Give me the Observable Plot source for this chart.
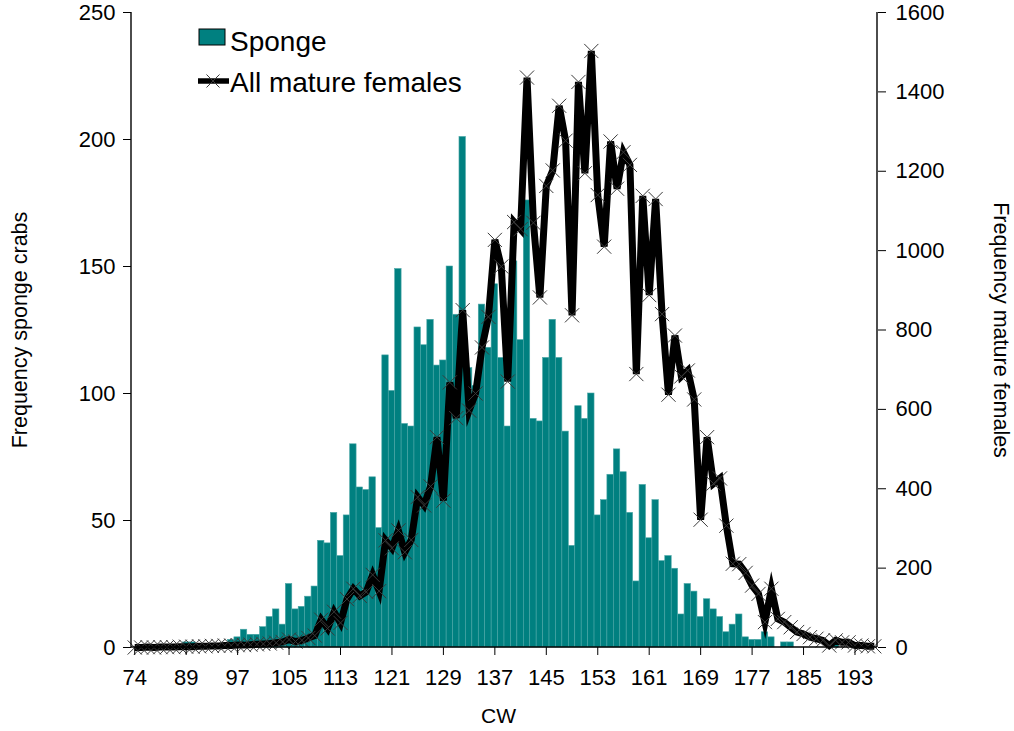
<!DOCTYPE html>
<html>
<head>
<meta charset="utf-8">
<script src="https://cdn.jsdelivr.net/npm/d3@7"></script>
<script src="https://cdn.jsdelivr.net/npm/@observablehq/plot@0.6"></script>
<style>
  body { margin: 0; background: #fff; font-family: "Liberation Sans", Arial, sans-serif; }
  #wrap { position: relative; width: 1014px; height: 731px; overflow: hidden; }
  #legend { position: absolute; left: 0; top: 0; pointer-events: none; }
</style>
</head>
<body>
<div id="wrap"></div>
<script>
// Carapace width categories (CW)
const cwCategories = [74, 82, 83, 84, 85, 86, 87, 88].concat(d3.range(89, 197));

// Frequency of sponge (ovigerous) crabs — left axis
const spongeFreq = [
  0, 0, 0, 0, 0, 0, 0, 0, 2, 2,
  0, 0, 0, 0, 0, 3, 4, 7, 5, 5,
  8, 12, 15, 9, 25, 15, 16, 20, 24, 42,
  41, 53, 36, 52, 80, 63, 62, 67, 47, 115,
  101, 149, 88, 87, 126, 119, 129, 111, 113, 150,
  131, 201, 110, 103, 135, 118, 143, 114, 87, 152,
  121, 176, 90, 89, 114, 129, 114, 85, 40, 95,
  90, 100, 52, 58, 68, 78, 69, 53, 26, 64,
  43, 58, 34, 36, 31, 13, 25, 22, 12, 19,
  15, 12, 6, 9, 13, 4, 3, 3, 6, 4,
  0, 2, 2, 0, 0, 0, 0, 0, 0, 1,
  0, 0, 0, 0, 0, 0
];

// Frequency of all mature females — right axis
const matureFreq = [
  0, 0, 1, 0, 1, 1, 1, 2, 2, 2,
  3, 3, 4, 4, 5, 5, 6, 6, 7, 8,
  9, 10, 12, 14, 20, 15, 18, 24, 30, 70,
  48, 90, 62, 122, 148, 130, 140, 183, 142, 270,
  250, 295, 240, 271, 379, 358, 406, 530, 370, 668,
  578, 850, 597, 640, 756, 833, 1027, 960, 670, 1072,
  1054, 1436, 1070, 882, 1163, 1202, 1365, 1277, 837, 1425,
  1195, 1503, 1140, 1010, 1275, 1156, 1248, 1216, 689, 1138,
  888, 1130, 840, 637, 786, 683, 698, 625, 322, 530,
  413, 426, 307, 211, 210, 188, 156, 135, 64, 148,
  72, 64, 51, 39, 34, 26, 22, 18, 5, 18,
  13, 13, 5, 5, 3, 3
];

const xTickLabels = [74, 89, 97, 105, 113, 121, 129, 137, 145, 153, 161, 169, 177, 185, 193];
const leftTicks = [0, 50, 100, 150, 200, 250];
const rightTicks = [0, 200, 400, 600, 800, 1000, 1200, 1400, 1600];
const leftMax = 250;
const rightMax = 1600;
const ratio = leftMax / rightMax;

const table = cwCategories.map((cw, i) => ({cw, sponge: spongeFreq[i], mature: matureFreq[i]}));

const teal = "#008080";

const axisLines = (index, scales, values, dims) => {
  const {width, height, marginLeft, marginRight, marginTop, marginBottom} = dims;
  const g = d3.create("svg:g").attr("stroke", "#000").attr("stroke-width", 1.4);
  const x0 = marginLeft, x1 = width - marginRight, y0 = marginTop, y1 = height - marginBottom;
  g.append("line").attr("x1", x0).attr("x2", x0).attr("y1", y0).attr("y2", y1);
  g.append("line").attr("x1", x1).attr("x2", x1).attr("y1", y0).attr("y2", y1);
  g.append("line").attr("x1", x0).attr("x2", x1).attr("y1", y1).attr("y2", y1);
  return g.node();
};

const chart = Plot.plot({
  width: 1014,
  height: 731,
  marginLeft: 131,
  marginRight: 137,
  marginTop: 12,
  marginBottom: 84,
  style: {fontFamily: "'Liberation Sans', Arial, sans-serif", fontSize: "22px", color: "#000", background: "#fff", overflow: "visible"},
  x: {type: "band", domain: cwCategories, padding: 0},
  y: {domain: [0, leftMax]},
  marks: [
    Plot.barY(table, {x: "cw", y: "sponge", fill: teal, stroke: "#4aa6a6", strokeWidth: 0.6}),
    Plot.line(table, {x: "cw", y: d => d.mature * ratio, stroke: "#000", strokeWidth: 7, strokeLinejoin: "miter", strokeMiterlimit: 6, strokeLinecap: "butt"}),
    Plot.dot(table, {x: "cw", y: d => d.mature * ratio, symbol: "times", r: 6.5, stroke: "#3a3a3a", strokeWidth: 1}),
    Plot.axisX({ticks: xTickLabels, tickSize: 8, tickPadding: 14, tickFormat: d => String(d), label: null, fontSize: 22}),
    Plot.axisY({anchor: "left", ticks: leftTicks, tickSize: 8, tickPadding: 8, label: null, fontSize: 22}),
    Plot.axisY({anchor: "right", ticks: rightTicks.map(v => v * ratio), tickFormat: v => String(Math.round(v / ratio)), tickSize: 8, tickPadding: 10, label: null, fontSize: 22}),
    axisLines,
    Plot.text(["Frequency sponge crabs"], {frameAnchor: "left", textAnchor: "middle", rotate: -90, dx: -111, fontSize: 21.5}),
    Plot.text(["Frequency mature females"], {frameAnchor: "right", textAnchor: "middle", rotate: 90, dx: 123, fontSize: 21.5}),
    Plot.text(["CW"], {frameAnchor: "bottom", textAnchor: "middle", dy: 75, dx: -6, fontSize: 21})
  ]
});

const wrap = document.getElementById("wrap");
wrap.appendChild(chart);

// Legend (inside the plot area, top-left)
const leg = d3.select(wrap).append("svg")
  .attr("id", "legend").attr("width", 1014).attr("height", 120)
  .style("font-family", "'Liberation Sans', Arial, sans-serif");
leg.append("rect").attr("x", 199).attr("y", 29).attr("width", 26).attr("height", 16)
  .attr("fill", teal).attr("stroke", "#000").attr("stroke-width", 1);
leg.append("text").attr("x", 230).attr("y", 51).attr("font-size", 28).text("Sponge");
leg.append("line").attr("x1", 198).attr("x2", 229).attr("y1", 81).attr("y2", 81)
  .attr("stroke", "#000").attr("stroke-width", 5.5);
leg.append("path").attr("d", d3.symbol(d3.symbolTimes, 113)()).attr("transform", "translate(213,81)")
  .attr("stroke", "#3a3a3a").attr("stroke-width", 1).attr("fill", "none");
leg.append("text").attr("x", 230).attr("y", 92).attr("font-size", 28).text("All mature females");
</script>
</body>
</html>
